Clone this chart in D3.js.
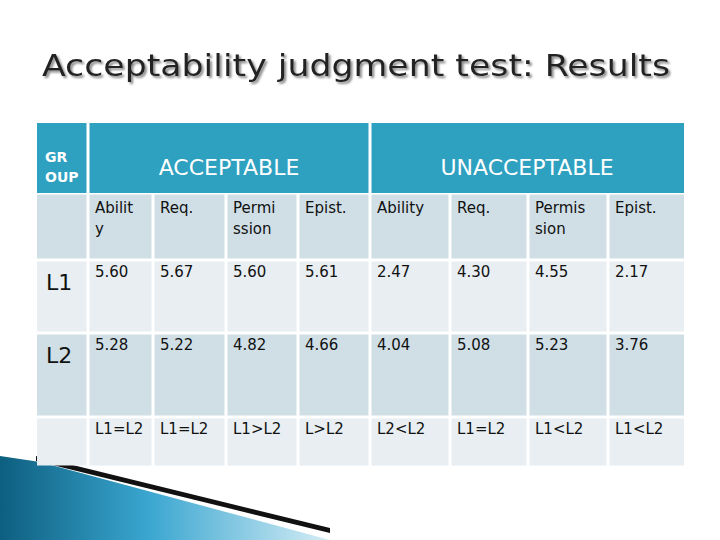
<!DOCTYPE html>
<html><head><meta charset="utf-8">
<script src="https://cdn.jsdelivr.net/npm/d3@7"></script>
<style>body{margin:0;background:#fff}</style></head>
<body><svg id="c" width="720" height="540"></svg>
<script>
const title = "Acceptability judgment test: Results";
const groupHeaders = ["ACCEPTABLE", "UNACCEPTABLE"];
const subHeaders = [["Abilit","y"],["Req."],["Permi","ssion"],["Epist."],["Ability"],["Req."],["Permis","sion"],["Epist."]];
const rowLabels = ["L1", "L2", ""];
const l1Values = ["5.60","5.67","5.60","5.61","2.47","4.30","4.55","2.17"];
const l2Values = ["5.28","5.22","4.82","4.66","4.04","5.08","5.23","3.76"];
const comparisons = ["L1=L2","L1=L2","L1>L2","L>L2","L2<L2","L1=L2","L1<L2","L1<L2"];

const svg = d3.select("#c");
const font = "'DejaVu Sans', sans-serif";
const cols = [37, 88, 153, 226, 298, 370, 450, 528, 608, 684];
const rows = [123, 193, 260, 333, 417, 467];
const rowFill = ["#2ea0c0", "#d0dfe6", "#e8eef2", "#d0dfe6", "#e8eef2"];

const defs = svg.append("defs");
const grad = defs.append("linearGradient").attr("id","g").attr("x1","0").attr("x2","1");
grad.append("stop").attr("offset","0").attr("stop-color","#0d5f80");
grad.append("stop").attr("offset","0.45").attr("stop-color","#3aa6d0");
grad.append("stop").attr("offset","1").attr("stop-color","#d5edf5");
const f = defs.append("filter").attr("id","sh");
f.append("feDropShadow").attr("dx",2).attr("dy",2).attr("stdDeviation",1).attr("flood-color","#888");

// decorative swoosh
const sw = svg.append("g");
sw.append("path").attr("d","M0,456 L40,462 L330,540 L0,540 Z").attr("fill","url(#g)");
sw.append("path").attr("d","M36,456 L330,528 L330,533 L36,461 Z").attr("fill","#111");

// title
svg.append("text").attr("x",42).attr("y",76).attr("textLength",628).attr("lengthAdjust","spacingAndGlyphs")
  .attr("font-family","'DejaVu Sans Condensed', 'DejaVu Sans', sans-serif").attr("font-size",31)
  .attr("fill","#222").attr("filter","url(#sh)").text(title);

const g = svg.append("g");
g.append("rect").attr("x",cols[0]).attr("y",rows[0]).attr("width",cols[9]-cols[0]).attr("height",rows[1]-rows[0]).attr("fill",rowFill[0]);
[cols[1], cols[5]].forEach(x=>g.append("rect").attr("x",x-1.5).attr("y",rows[0]).attr("width",3).attr("height",rows[1]-rows[0]).attr("fill","#fff"));
for (let r=1;r<5;r++) for (let c=0;c<9;c++)
  g.append("rect").attr("x",cols[c]+(c?1.5:0)).attr("y",rows[r]+1.5)
   .attr("width",cols[c+1]-cols[c]-(c?1.5:0)-(c<8?1.5:0)).attr("height",rows[r+1]-rows[r]-3).attr("fill",rowFill[r]);

const t = (x,y,s,size,fill,anchor,weight)=>g.append("text").attr("x",x).attr("y",y).text(s)
  .attr("font-family",font).attr("font-size",size).attr("fill",fill||"#111")
  .attr("text-anchor",anchor||"start").attr("font-weight",weight||"normal");
t(45,162,"GR",14,"#fff","start","bold");
t(45,182,"OUP",14,"#fff","start","bold");
t((cols[1]+cols[5])/2,175,groupHeaders[0],22,"#fff","middle");
t((cols[5]+cols[9])/2,175,groupHeaders[1],22,"#fff","middle");
subHeaders.forEach((lines,i)=>lines.forEach((l,j)=>t(cols[i+1]+7,213+j*21,l,15)));
const data = [l1Values,l2Values,comparisons];
data.forEach((vals,r)=>{
  if (rowLabels[r]) t(46,rows[r+2]+30,rowLabels[r],22);
  vals.forEach((v,i)=>t(cols[i+1]+7,rows[r+2]+17,v,15));
});
</script></body></html>
